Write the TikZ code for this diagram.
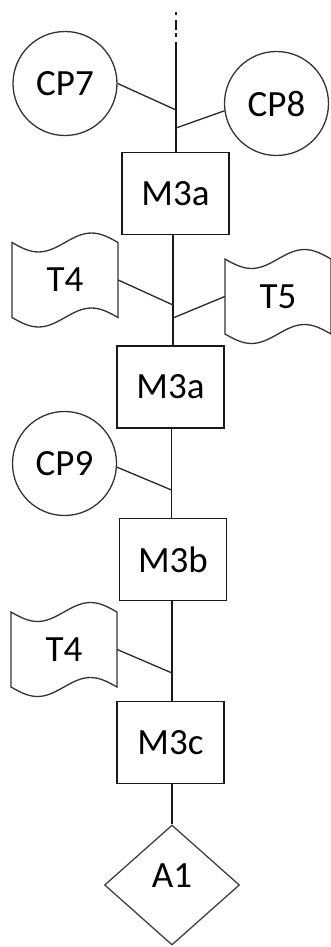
\documentclass[tikz,border=0pt]{standalone}
\usepackage{fontspec}
\setmainfont{Carlito}
\usetikzlibrary{shapes.geometric}
\tikzset{
  lbl/.style={font=\fontsize{37}{40}\selectfont, text=black},
  boxn/.style={rectangle, draw=black!90, line width=1.5pt, minimum width=107pt, minimum height=82pt, inner sep=0pt, lbl},
  circn/.style={circle, draw=black!80, line width=1.3pt, minimum size=104pt, inner sep=0pt, lbl},
  tapetxt/.style={rectangle, minimum width=106pt, minimum height=75pt, inner sep=0pt, lbl},
  tapeline/.style={draw=black!80, line width=1.3pt},
  link/.style={draw=black!90, line width=1.6pt},
  sidelink/.style={draw=black!85, line width=1.3pt},
  diam/.style={diamond, draw=black!75, line width=1.3pt, minimum width=135pt, minimum height=120pt, inner sep=0pt, lbl, text depth=18pt}
}
\newcommand\tapeitem[4]{%
  \draw[tapeline] (#2,#3) sin ++(26.5,9.5) cos ++(26.5,-9.5) sin ++(26.5,-9.5) cos ++(26.5,9.5)
    -- ++(0,75) sin ++(-26.5,-9.5) cos ++(-26.5,9.5) sin ++(-26.5,9.5) cos ++(-26.5,-9.5) -- cycle;
  \node[tapetxt] (#1) at ({#2+53},{#3+37.5}) {#4};}
\begin{document}
\begin{tikzpicture}[x=1pt,y=-1pt]
\useasboundingbox (0,0) rectangle (330,947);
% junction coordinates
\coordinate (top) at (176,12);
\coordinate (topsolid) at (176,42);
\coordinate (J1) at (176,110);
\coordinate (J2) at (176,128);
\coordinate (J3) at (173,305);
\coordinate (J4) at (173,318);
\coordinate (J5) at (171.5,490);
\coordinate (J6) at (172,673);
% nodes
\node[circn] (CP7) at (65,83.5) {CP7};
\node[circn] (CP8) at (276.5,103.5) {CP8};
\node[boxn] (B1) at (175.5,193.5) {M3a};
\tapeitem{T4a}{12}{242.5}{T4}
\tapeitem{T5}{225}{259}{T5}
\node[boxn] (B2) at (170.5,387) {M3a};
\node[circn] (CP9) at (64.5,463.5) {CP9};
\node[boxn] (B3) at (173,559.5) {M3b};
\tapeitem{T4b}{11}{612}{T4}
\node[boxn] (B4) at (170.5,742.5) {M3c};
\node[diam] (A1) at (172,885) {A1};
% connectors
\draw[link, dash pattern=on 3pt off 5pt on 10pt off 3pt on 4pt off 5pt] (top) -- (topsolid);
\draw[link] (topsolid) -- (B1.north -| topsolid);
\draw[sidelink] (CP7.east) -- (J1);
\draw[sidelink] (J2) -- (CP8.188);
\draw[link] (B1.south -| J3) -- (B2.north -| J3);
\draw[sidelink] (T4a.east) -- (J3);
\draw[sidelink] (J4) -- (T5.west);
\draw[link] (B2.south -| J5) -- (B3.north -| J5);
\draw[sidelink] (CP9.-4) -- (J5);
\draw[link] (B3.south -| J6) -- (B4.north -| J6);
\draw[sidelink] (T4b.east) -- (J6);
\draw[link] (B4.south -| A1.north) -- (A1.north);
\end{tikzpicture}
\end{document}
